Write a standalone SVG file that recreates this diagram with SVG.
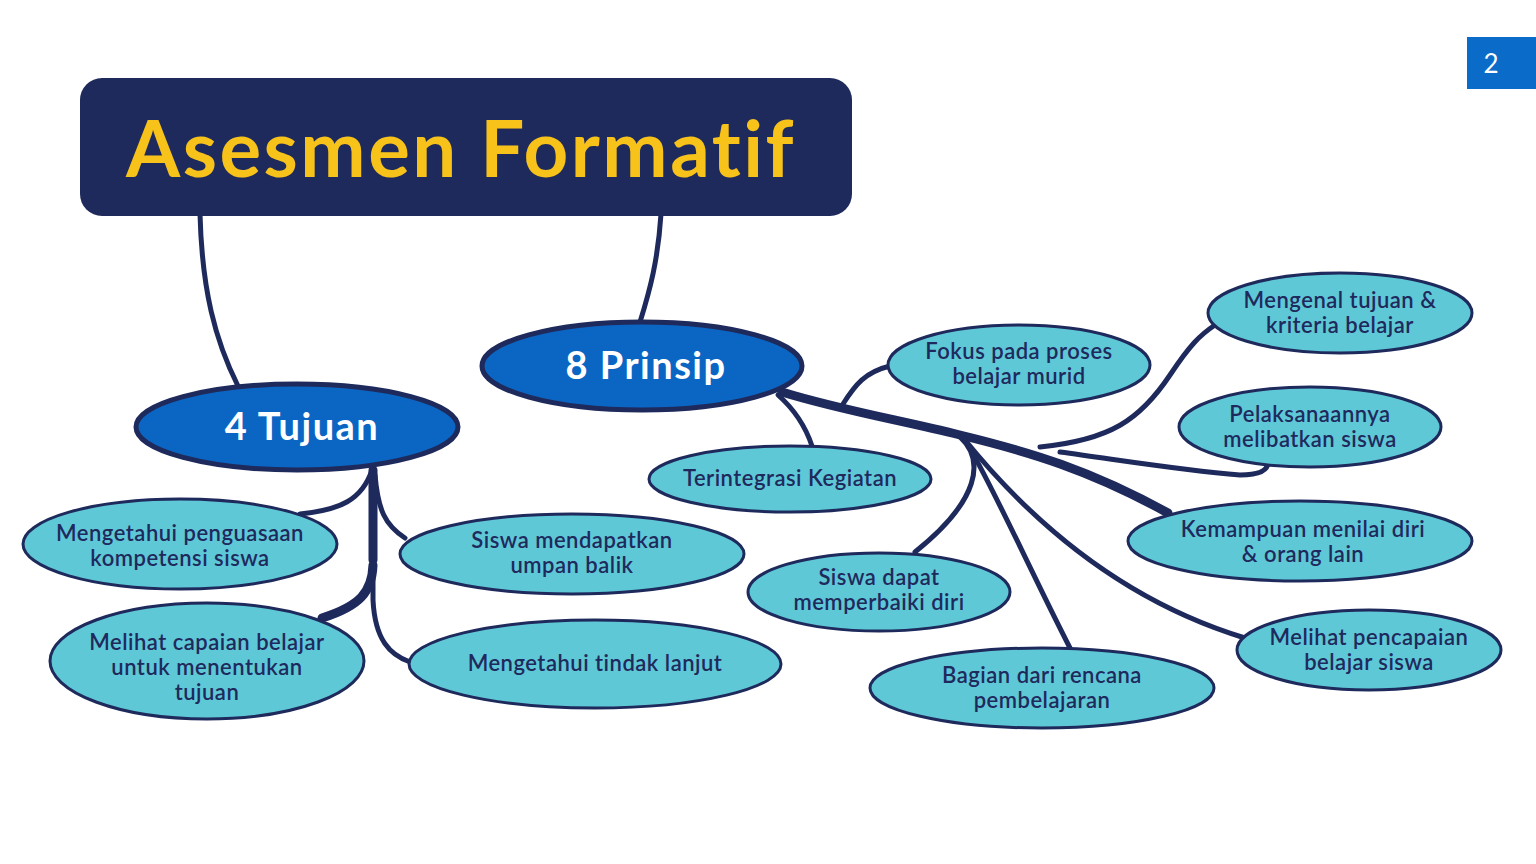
<svg xmlns="http://www.w3.org/2000/svg" width="1536" height="864" viewBox="0 0 1536 864">
<style>
.c{fill:none;stroke:#1f2a5c;stroke-width:5;stroke-linecap:round}
.ct{fill:none;stroke:#1f2a5c;stroke-width:9;stroke-linecap:round}
.main{fill:#0b66c3;stroke:#1f2a5c;stroke-width:5}
.leaf{fill:#5fc8d7;stroke:#1f2a5c;stroke-width:3}
.mt{font-family:Lato,"Open Sans",sans-serif;font-size:38px;font-weight:bold;letter-spacing:1.5px;fill:#ffffff;text-anchor:middle}
.lt{font-family:Lato,"Open Sans",sans-serif;font-size:22px;font-weight:600;letter-spacing:0.5px;fill:#1f2a5c;text-anchor:middle}
</style>
<rect width="1536" height="864" fill="#ffffff"/>
<g id="connectors">
<path class="c" d="M200,214 C202,290 215,340 238,386"/>
<path class="c" d="M661,214 C658,260 650,290 640,322"/>
<path class="c" d="M372,470 C362,500 340,510 300,514"/>
<path class="c" d="M375,475 C378,510 385,525 405,538"/>
<path class="ct" d="M373,565 C372,592 360,606 322,618"/>
<path class="ct" d="M373,470 L373,560"/>
<path class="c" d="M373,470 L373,600 C375,640 390,655 410,662"/>
<path class="ct" d="M782,392 C840,410 900,420 960,435 C1030,452 1090,470 1168,513"/>
<path class="c" d="M778,395 C795,410 805,425 812,446"/>
<path class="c" d="M843,404 C855,385 865,372 890,366"/>
<path class="c" d="M1040,447 C1110,440 1140,420 1170,375 C1190,345 1200,335 1215,325"/>
<path class="c" d="M1060,452 C1120,460 1180,470 1240,475 C1260,475 1268,470 1268,462"/>
<path class="c" d="M960,437 C985,460 980,500 915,552"/>
<path class="c" d="M965,440 C990,480 1030,570 1070,648"/>
<path class="c" d="M965,440 C1030,520 1120,600 1245,638"/>
</g>
<g id="title">
<rect x="80" y="78" width="772" height="138" rx="22" fill="#1f2a5c"/>
<text x="461" y="177" font-family="Lato,'Open Sans',sans-serif" font-size="78" font-weight="bold" letter-spacing="2.5" fill="#f7c21a" text-anchor="middle">Asesmen Formatif</text>
</g>
<g id="page-number">
<rect x="1467" y="37" width="69" height="52" fill="#0b6bc8"/>
<text x="1491" y="73" font-family="Lato,'Open Sans',sans-serif" font-size="26" fill="#ffffff" text-anchor="middle">2</text>
</g>
<g id="tujuan">
<ellipse class="main" cx="297" cy="427" rx="161" ry="43"/>
<text class="mt" x="302" y="440">4 Tujuan</text>
</g>
<g id="prinsip">
<ellipse class="main" cx="642" cy="366" rx="160" ry="44"/>
<text class="mt" x="646" y="379">8 Prinsip</text>
</g>
<g id="t1">
<ellipse class="leaf" cx="180" cy="544" rx="157" ry="45"/>
<text class="lt" x="180" y="541">Mengetahui penguasaan</text>
<text class="lt" x="180" y="566">kompetensi siswa</text>
</g>
<g id="t2">
<ellipse class="leaf" cx="207" cy="661" rx="157" ry="58"/>
<text class="lt" x="207" y="650">Melihat capaian belajar</text>
<text class="lt" x="207" y="675">untuk menentukan</text>
<text class="lt" x="207" y="700">tujuan</text>
</g>
<g id="t3">
<ellipse class="leaf" cx="572" cy="554" rx="172" ry="40"/>
<text class="lt" x="572" y="548">Siswa mendapatkan</text>
<text class="lt" x="572" y="573">umpan balik</text>
</g>
<g id="t4">
<ellipse class="leaf" cx="595" cy="664" rx="186" ry="44"/>
<text class="lt" x="595" y="671">Mengetahui tindak lanjut</text>
</g>
<g id="p1">
<ellipse class="leaf" cx="790" cy="479" rx="141" ry="33"/>
<text class="lt" x="790" y="486">Terintegrasi Kegiatan</text>
</g>
<g id="p2">
<ellipse class="leaf" cx="1019" cy="365" rx="131" ry="40"/>
<text class="lt" x="1019" y="359">Fokus pada proses</text>
<text class="lt" x="1019" y="384">belajar murid</text>
</g>
<g id="p3">
<ellipse class="leaf" cx="1340" cy="313" rx="132" ry="40"/>
<text class="lt" x="1340" y="308">Mengenal tujuan &amp;</text>
<text class="lt" x="1340" y="333">kriteria belajar</text>
</g>
<g id="p4">
<ellipse class="leaf" cx="1310" cy="427" rx="131" ry="40"/>
<text class="lt" x="1310" y="422">Pelaksanaannya</text>
<text class="lt" x="1310" y="447">melibatkan siswa</text>
</g>
<g id="p5">
<ellipse class="leaf" cx="1300" cy="541" rx="172" ry="40"/>
<text class="lt" x="1303" y="537">Kemampuan menilai diri</text>
<text class="lt" x="1303" y="562">&amp; orang lain</text>
</g>
<g id="p6">
<ellipse class="leaf" cx="879" cy="592" rx="131" ry="39"/>
<text class="lt" x="879" y="585">Siswa dapat</text>
<text class="lt" x="879" y="610">memperbaiki diri</text>
</g>
<g id="p7">
<ellipse class="leaf" cx="1042" cy="688" rx="172" ry="40"/>
<text class="lt" x="1042" y="683">Bagian dari rencana</text>
<text class="lt" x="1042" y="708">pembelajaran</text>
</g>
<g id="p8">
<ellipse class="leaf" cx="1369" cy="650" rx="132" ry="40"/>
<text class="lt" x="1369" y="645">Melihat pencapaian</text>
<text class="lt" x="1369" y="670">belajar siswa</text>
</g>
</svg>
